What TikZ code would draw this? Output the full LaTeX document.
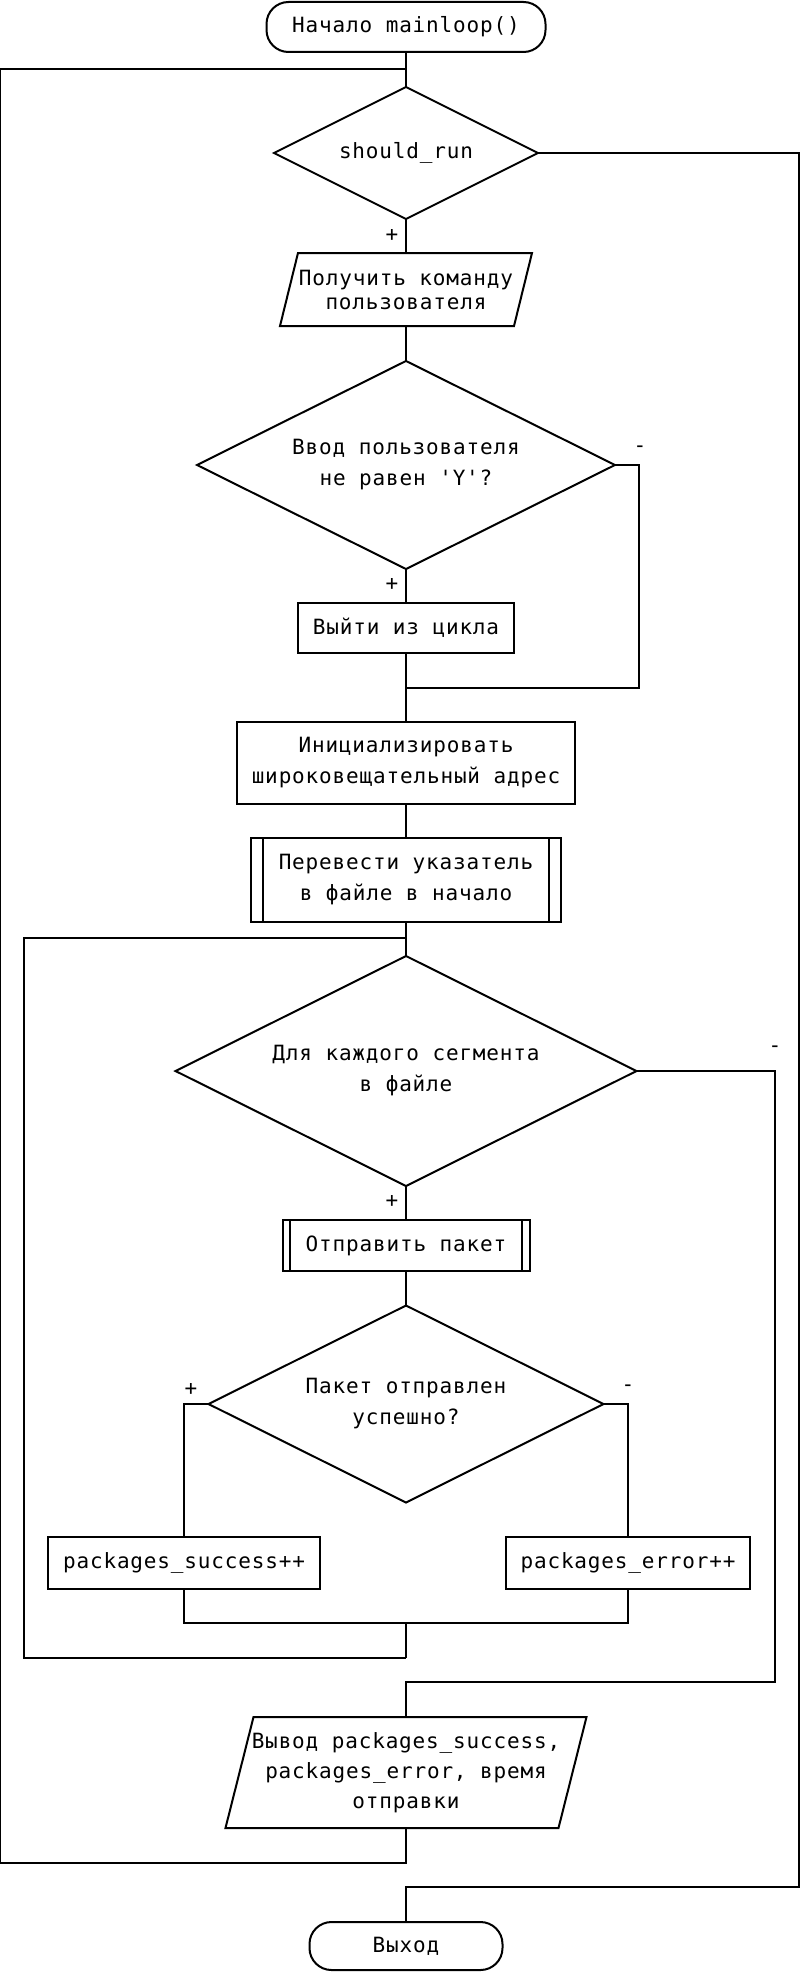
\documentclass[tikz,border=0pt]{standalone}
\usepackage{fontspec}
\usetikzlibrary{shapes.geometric}
\newfontfamily\mono[LetterSpace=4]{DejaVu Sans Mono}
\begin{document}
\begin{tikzpicture}[x=1pt,y=-1pt,
  every node/.style={font=\mono\fontsize{21}{31}\selectfont, inner sep=0pt, outer sep=0pt},
  shp/.style={draw=black, line width=2pt},
  con/.style={draw=black, line width=1.3pt},
  term/.style={shp, rectangle, rounded corners=22pt, align=center},
  box/.style={shp, rectangle, align=center},
  dec/.style={shp, diamond, shape aspect=2, align=center},
  txt/.style={rectangle, draw=none, align=center},
  lbl/.style={rectangle, draw=none}
]
\useasboundingbox (0,0) rectangle (800,1972);
\fill[white] (0,0) rectangle (800,1972);

% nodes
\node[term, minimum width=279pt, minimum height=50pt] (start) at (406,27) {Начало mainloop()};
\node[dec, minimum width=264pt, minimum height=132pt] (d1) at (406,153) {should\_run};
\node[txt, minimum width=234pt, minimum height=73pt, font=\mono\fontsize{21}{24}\selectfont] (in1) at (406,289.5) {Получить команду\\пользователя};
\node[dec, minimum width=418pt, minimum height=208pt] (d2) at (406,465) {Ввод пользователя\\не равен 'Y'?};
\node[box, minimum width=216pt, minimum height=50pt] (brk) at (406,628) {Выйти из цикла};
\node[box, minimum width=338pt, minimum height=82pt] (init) at (406,763) {Инициализировать\\широковещательный адрес};
\node[box, minimum width=310pt, minimum height=84pt] (sub1) at (406,880) {Перевести указатель\\в файле в начало};
\node[dec, minimum width=461pt, minimum height=230pt] (d3) at (406,1071) {Для каждого сегмента\\в файле};
\node[box, minimum width=247pt, minimum height=51pt] (sub2) at (406,1245.5) {Отправить пакет};
\node[dec, minimum width=395pt, minimum height=197pt] (d4) at (406,1404) {Пакет отправлен\\успешно?};
\node[box, minimum width=272pt, minimum height=52pt] (succ) at (184,1563) {packages\_success++};
\node[box, minimum width=244pt, minimum height=52pt] (err) at (628,1563) {packages\_error++};
\node[txt, minimum width=333pt, minimum height=111pt, font=\mono\fontsize{21}{30}\selectfont] (out) at (406,1772.5) {Вывод packages\_success,\\packages\_error, время\\отправки};
\node[term, minimum width=193pt, minimum height=48pt] (end) at (406,1946) {Выход};

% parallelograms
\draw[shp] ([xshift=9pt]in1.north west) -- ([xshift=9pt]in1.north east) -- ([xshift=-9pt]in1.south east) -- ([xshift=-9pt]in1.south west) -- cycle;
\draw[shp] ([xshift=14pt]out.north west) -- ([xshift=14pt]out.north east) -- ([xshift=-14pt]out.south east) -- ([xshift=-14pt]out.south west) -- cycle;

% subprocess inner lines
\draw[shp] ([xshift=12pt]sub1.north west) -- ([xshift=12pt]sub1.south west);
\draw[shp] ([xshift=-12pt]sub1.north east) -- ([xshift=-12pt]sub1.south east);
\draw[shp] ([xshift=7pt]sub2.north west) -- ([xshift=7pt]sub2.south west);
\draw[shp] ([xshift=-8pt]sub2.north east) -- ([xshift=-8pt]sub2.south east);

% coordinates
\coordinate (top) at (406,69);
\coordinate (oL1) at (0,69);
\coordinate (oL2) at (0,1863);
\coordinate (oB) at (406,1863);
\coordinate (r1a) at (799,153);
\coordinate (r1b) at (799,1887);
\coordinate (r1c) at (406,1887);
\coordinate (r2a) at (639,465);
\coordinate (r2b) at (639,688);
\coordinate (r2c) at (406,688);
\coordinate (iT) at (406,938);
\coordinate (iL1) at (24,938);
\coordinate (iL2) at (24,1658);
\coordinate (iB) at (406,1658);
\coordinate (r3a) at (775,1071);
\coordinate (r3b) at (775,1682);
\coordinate (r3c) at (406,1682);
\coordinate (lA) at (184,1404);
\coordinate (rA) at (628,1404);
\coordinate (mL) at (184,1623);
\coordinate (mR) at (628,1623);
\coordinate (mC) at (406,1623);

% connectors
\draw[con] (start.south) -- (d1.north);
\draw[con] (out.south) -- (oB) -- (oL2) -- (oL1) -- (top);
\draw[con] (d1.south) -- (in1.north);
\draw[con] (d1.east) -- (r1a) -- (r1b) -- (r1c) -- (end.north);
\draw[con] (in1.south) -- (d2.north);
\draw[con] (d2.south) -- (brk.north);
\draw[con] (d2.east) -- (r2a) -- (r2b) -- (r2c);
\draw[con] (brk.south) -- (init.north);
\draw[con] (init.south) -- (sub1.north);
\draw[con] (sub1.south) -- (d3.north);
\draw[con] (iB) -- (iL2) -- (iL1) -- (iT);
\draw[con] (d3.south) -- (sub2.north);
\draw[con] (d3.east) -- (r3a) -- (r3b) -- (r3c) -- (out.north);
\draw[con] (sub2.south) -- (d4.north);
\draw[con] (d4.west) -- (lA) -- (succ.north);
\draw[con] (d4.east) -- (rA) -- (err.north);
\draw[con] (succ.south) -- (mL) -- (mR) -- (err.south);
\draw[con] (mC) -- (iB);

% labels
\node[lbl] (p1) at (392,235) {+};
\node[lbl] (m1) at (803,131) {-};
\node[lbl] (p2) at (392,584) {+};
\node[lbl] (m2) at (640,449) {-};
\node[lbl] (p3) at (392,1201) {+};
\node[lbl] (m3) at (775,1049) {-};
\node[lbl] (p4) at (191,1389) {+};
\node[lbl] (m4) at (628,1388) {-};
\end{tikzpicture}
\end{document}
